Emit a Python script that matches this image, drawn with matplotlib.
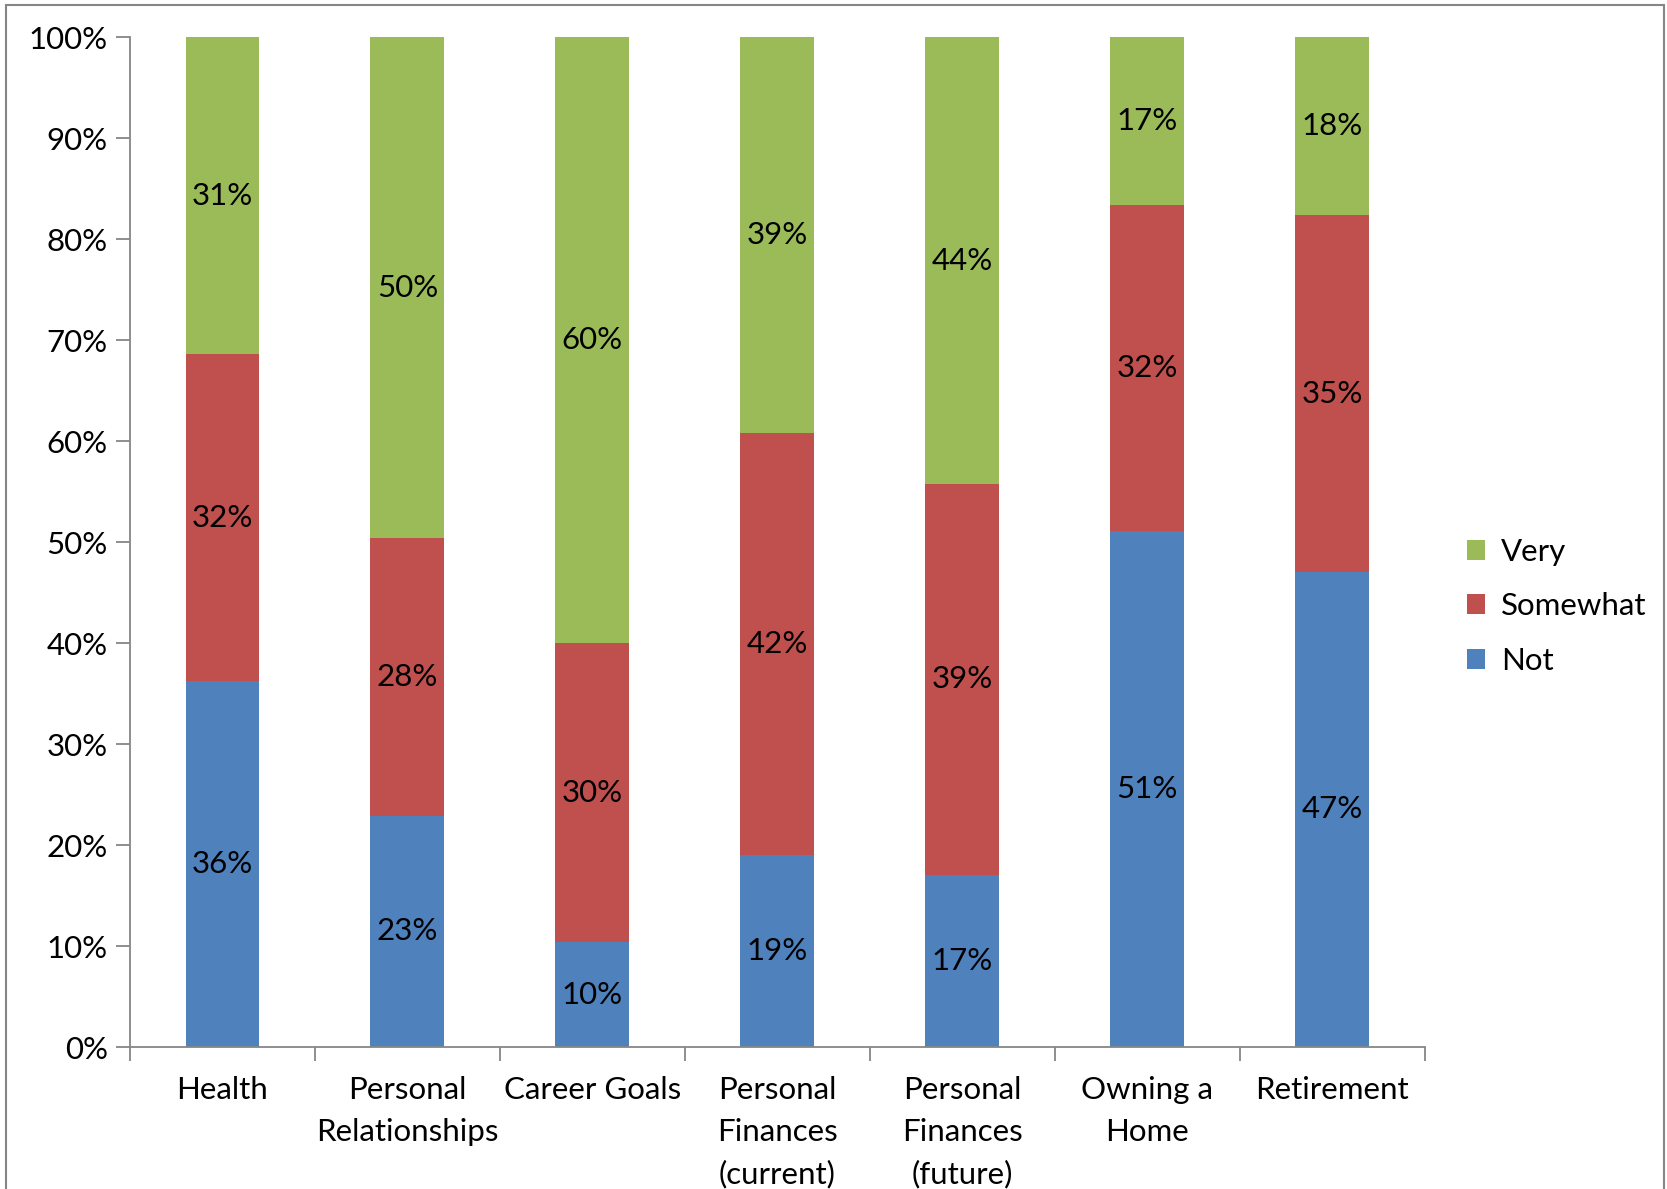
import numpy as np
import matplotlib.pyplot as plt
from matplotlib.patches import Rectangle

categories = ['Health', 'Personal\nRelationships', 'Career Goals', 'Personal\nFinances\n(current)',
              'Personal\nFinances\n(future)', 'Owning a\nHome', 'Retirement']
not_vals = [36.2, 22.9, 10.4, 19.05, 17.05, 51.1, 47.05]
somewhat_vals = [32.4, 27.5, 29.6, 41.8, 38.7, 32.3, 35.3]
very_vals = [31.4, 49.6, 60.0, 39.15, 44.25, 16.6, 17.65]

plt.rcParams['font.family'] = ['Lato', 'DejaVu Sans']
fs = 22.5

fig = plt.figure(figsize=(16.67, 11.89), dpi=100)
ax = fig.add_axes([0.078, 0.1194, 0.7766, 0.8493])

x = np.arange(len(categories))
w = 0.4
series = [('Not', not_vals, '#4F81BD'), ('Somewhat', somewhat_vals, '#C0504D'), ('Very', very_vals, '#9BBB59')]
bottom = np.zeros(len(categories))
handles = []
for name, vals, color in series:
    vals = np.array(vals)
    b = ax.bar(x, vals, w, bottom=bottom, color=color, label=name)
    handles.append(b)
    for xi, bi, v in zip(x, bottom, vals):
        ax.text(xi, bi + v / 2, f'{int(v + 0.5)}%', ha='center', va='center', fontsize=fs)
    bottom += vals

ax.set_xlim(-0.5, len(categories) - 0.5)
ax.set_ylim(0, 100)
ax.set_yticks(np.arange(0, 101, 10))
ax.set_yticklabels([f'{t}%' for t in range(0, 101, 10)], fontsize=fs)
ax.set_xticks(x)
ax.set_xticklabels(categories, fontsize=fs, linespacing=1.58, va='top')
ax.set_xticks(np.arange(-0.5, len(categories)), minor=True)
ax.tick_params(axis='x', which='major', length=0, pad=21)
ax.tick_params(axis='x', which='minor', length=10, color='#868686', width=1.3)
ax.tick_params(axis='y', length=10, color='#868686', width=1.3, pad=6)
for s in ['top', 'right']:
    ax.spines[s].set_visible(False)
for s in ['left', 'bottom']:
    ax.spines[s].set_color('#868686')
    ax.spines[s].set_linewidth(1.3)

leg = fig.legend(handles[::-1], ['Very', 'Somewhat', 'Not'], loc='center left',
                 bbox_to_anchor=(0.863, 0.490), frameon=False, fontsize=fs,
                 handlelength=0.6, handleheight=0.6, handletextpad=0.5, labelspacing=0.85)

fig.patches.append(Rectangle((6 / 1667, -0.05), (1664 - 6) / 1667, 1.05 - 5 / 1189,
                             transform=fig.transFigure, fill=False, edgecolor='#868686', linewidth=1.5))

fig.savefig('out.png', dpi=100)
